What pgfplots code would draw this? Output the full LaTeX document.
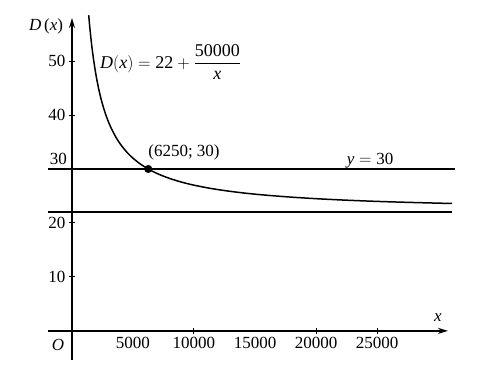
\documentclass[border=0pt]{standalone}
\usepackage{fontspec}
\setmainfont{Liberation Serif}
\usepackage{amsmath}
\usepackage{pgfplots}
\pgfplotsset{compat=1.18}
\usetikzlibrary{arrows.meta}

\begin{document}
\begin{tikzpicture}[font=\fontsize{17}{19}\selectfont]
\useasboundingbox (-48pt,-9pt) rectangle (437pt,360pt);
\begin{axis}[
  at={(0pt,0pt)}, anchor=south west,
  scale only axis, width=407pt, height=348pt,
  xmin=-1967, xmax=31393, ymin=-5.4, ymax=59.1,
  axis lines=middle,
  axis line style={line width=1.4pt, black},
  x axis line style={-{Stealth[length=10pt,width=6pt]}, shorten >=7pt},
  y axis line style={-{Stealth[length=10pt,width=6pt]}, shorten >=6pt},
  clip=false,
  scaled x ticks=false,
  xtick={10000,20000,25000},
  xticklabels={10000,20000,25000},
  extra x ticks={5000,15000},
  extra x tick labels={5000,15000},
  extra x tick style={tick style={draw=none}},
  ytick={10,20,40,50},
  yticklabels={10,20,40,50},
  tick align=center,
  major tick length=6pt,
  tick style={line width=1pt, black},
  tick label style={font=\fontsize{17}{19}\selectfont},
  /pgf/number format/assume math mode=true,
]
\addplot[line width=1.5pt, black, smooth] coordinates {
 (1370,58.50) (1450,56.48) (1550,54.26) (1650,52.30) (1800,49.78)
 (2000,47.00) (2200,44.73) (2400,42.83) (2650,40.87) (2900,39.24)
 (3200,37.63) (3600,35.89) (4000,34.50) (4500,33.11) (5000,32.00)
 (5600,30.93) (6250,30.00) (7000,29.14) (8000,28.25) (9000,27.56)
 (10000,27.00) (11500,26.35) (13000,25.85) (14500,25.45) (16000,25.13)
 (18000,24.78) (20000,24.50) (22000,24.27) (24000,24.08) (26000,23.92)
 (28000,23.79) (30000,23.67) (31150,23.61)
};
\addplot[line width=1.5pt, black] coordinates {(-1967,30) (31393,30)};
\addplot[line width=1.6pt, black] coordinates {(-1967,22.05) (31150,22.05)};
\addplot[only marks, mark=*, mark size=3.8pt, black] coordinates {(6250,30)};

\node at (axis cs:-2131,56.5) {\textit{D}\,(\textit{x})};
\node at (axis cs:-1148,-2.6) {\textit{O}};
\node at (axis cs:30000,2.4) {\textit{x}};
\node at (axis cs:-1107,31.9) {30};
\node[anchor=west, inner sep=0pt, font=\fontsize{18}{20}\selectfont] at (axis cs:2295,49.8)
  {$\textit{D}(\textit{x}) = \text{22} + \dfrac{\text{50000}}{\text{\textit{x}}}$};
\node at (axis cs:9180,33.0) {(6250; 30)};
\node at (axis cs:24430,31.5) {$\textit{y} = \text{30}$};
\end{axis}
\end{tikzpicture}
\end{document}
